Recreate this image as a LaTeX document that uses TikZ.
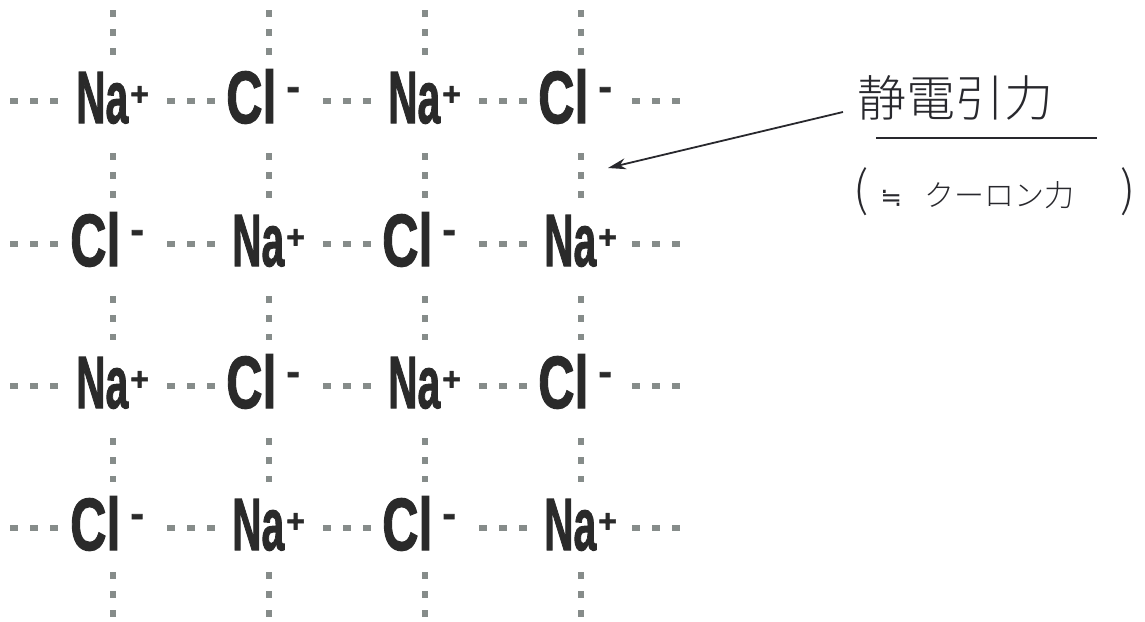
\documentclass[tikz,border=0pt]{standalone}
\usepackage{fontspec}
\setmainfont{Liberation Sans}
\newfontfamily\ionfont[BoldFeatures={FakeBold=1.8}]{Liberation Sans}
\newfontfamily\cjk[UprightFont={* Light}]{Noto Sans CJK JP}
\newfontfamily\symfont{DejaVu Sans}
\usetikzlibrary{arrows.meta}
\definecolor{dotgray}{RGB}{134,140,138}
\definecolor{ink}{RGB}{42,42,42}
\definecolor{pen}{RGB}{40,40,45}
\newcommand{\NaIon}{\scalebox{0.55}[1]{Na}\hspace{2pt}\raisebox{18pt}{\fontsize{32}{32}\selectfont +}}
\newcommand{\ClIon}{\scalebox{0.68}[1]{Cl}\hspace{10pt}\raisebox{23pt}{\fontsize{40}{40}\selectfont -}}
\tikzset{
  ion/.style={inner sep=0pt, anchor=base west, text=ink, font=\ionfont\bfseries\fontsize{74}{80}\selectfont},
  hbond/.style={draw=dotgray, line width=6pt, line cap=butt, dash pattern=on 8pt off 12pt},
  vbond/.style={draw=dotgray, line width=6.5pt, line cap=butt, dash pattern=on 7pt off 12pt},
  jp/.style={inner sep=0pt, text=pen},
}
\begin{document}
\begin{tikzpicture}[x=1pt,y=-1pt]
\useasboundingbox (0,0) rectangle (1145,621);
% grid points and ions
\foreach \r/\yb/\yg in {1/123/101, 2/266/244, 3/408/386, 4/550/528}{
  \coordinate (L\r) at (10,\yg);
  \coordinate (R\r) at (680,\yg);
  \foreach \c/\x in {1/113,2/269,3/425,4/581}{
    \coordinate (g\r\c) at (\x,\yg);
    \pgfmathtruncatemacro{\pty}{mod(\r+\c,2)}
    \ifnum\pty=0
      \node[ion] (i\r\c) at (\x-37,\yb) {\NaIon};
    \else
      \node[ion] (i\r\c) at (\x-43,\yb) {\ClIon};
    \fi
  }
}
\foreach \c/\x in {1/113,2/269,3/425,4/581}{
  \coordinate (T\c) at (\x,10);
  \coordinate (B\c) at (\x,617);
}
% horizontal bonds
\foreach \r in {1,2,3,4}{
  \draw[hbond, shorten >=55pt] (L\r) -- (g\r1);
  \foreach \c [evaluate=\c as \n using int(\c+1)] in {1,2,3}{
    \draw[hbond, shorten <=54pt, shorten >=54pt] (g\r\c) -- (g\r\n);
  }
  \draw[hbond, shorten <=51pt] (g\r4) -- (R\r);
}
% vertical bonds
\foreach \c in {1,2,3,4}{
  \draw[vbond, shorten >=46pt] (T\c) -- (g1\c);
  \foreach \r [evaluate=\r as \n using int(\r+1)] in {1,2,3}{
    \draw[vbond, shorten <=52pt, shorten >=46pt] (g\r\c) -- (g\n\c);
  }
  \draw[vbond, shorten <=44pt] (g4\c) -- (B\c);
}
% annotation
\node[jp, font=\cjk\fontsize{49}{52}\selectfont] (jp1) at (955,98) {静電引力};
\coordinate (u1) at (876,138);
\coordinate (u2) at (1097,138);
\draw[pen, line width=1.6pt] (u1) -- (u2);
\node[jp, font=\cjk\fontsize{30}{32}\selectfont, anchor=west] (jp2) at (853,192)
  {{\fontsize{48}{48}\selectfont (}\hspace{12pt}{\symfont\fontsize{26}{26}\selectfont ≒}\hspace{22pt}クーロン力\hspace{46pt}{\fontsize{48}{48}\selectfont )}};
\coordinate (arrS) at (843,112);
\coordinate (arrE) at (608,168);
\draw[pen, line width=1.8pt, -{Stealth[length=18pt,width=11pt]}] (arrS) -- (arrE);
\end{tikzpicture}
\end{document}
